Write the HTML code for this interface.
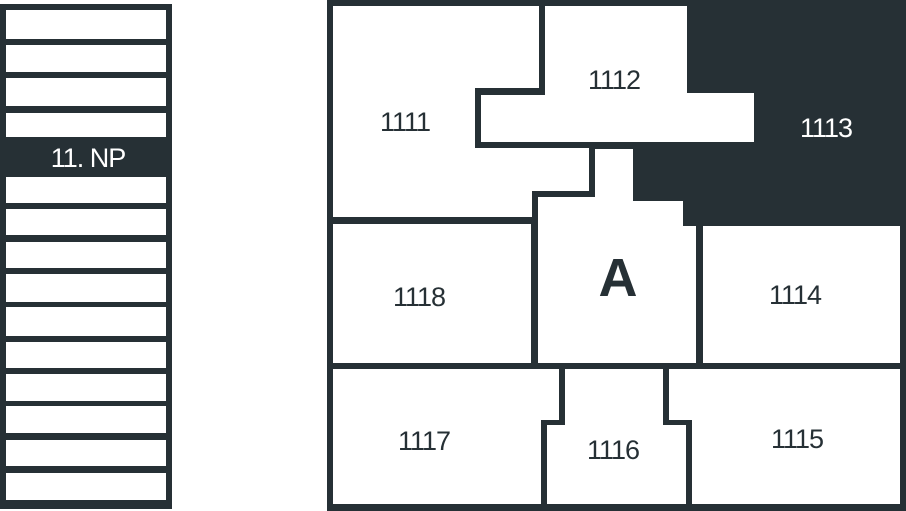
<!DOCTYPE html>
<html><head><meta charset="utf-8"><style>
html,body{margin:0;padding:0;background:#fff;}
svg{display:block;}
text{font-family:"Liberation Sans",sans-serif;font-size:27px;fill:#263035;text-anchor:middle;letter-spacing:-1px;}
</style></head><body>
<svg width="906" height="511" viewBox="0 0 906 511" xmlns="http://www.w3.org/2000/svg">
<rect x="0" y="4" width="172" height="505" fill="#263035"/>
<g fill="#fff">
<rect x="6" y="10" width="160" height="29"/>
<rect x="6" y="45" width="160" height="27"/>
<rect x="6" y="78" width="160" height="28"/>
<rect x="6" y="113" width="160" height="24"/>
<rect x="6" y="177" width="160" height="26"/>
<rect x="6" y="209" width="160" height="26"/>
<rect x="6" y="242" width="160" height="26"/>
<rect x="6" y="274" width="160" height="28"/>
<rect x="6" y="307" width="160" height="29"/>
<rect x="6" y="342" width="160" height="26"/>
<rect x="6" y="374" width="160" height="27"/>
<rect x="6" y="406" width="160" height="27"/>
<rect x="6" y="440" width="160" height="26"/>
<rect x="6" y="473" width="160" height="27"/>
</g>
<text x="88" y="167" style="fill:#fff">11. NP</text>

<rect x="327" y="0" width="579" height="511" fill="#263035"/>
<g fill="#fff">
<polygon points="333,6 539,6 539,88 475,88 475,148 589,148 589,191 532,191 532,217 333,217"/>
<polygon points="545,6 687,6 687,93 754,93 754,142 481,142 481,95 545,95"/>
<polygon points="595,149 633,149 633,201 683,201 683,226 696,226 696,363 538,363 538,197 595,197"/>
<rect x="703" y="226" width="197" height="137"/>
<rect x="333" y="224" width="198" height="139"/>
<polygon points="333,369 559,369 559,420 541,420 541,504 333,504"/>
<polygon points="565,369 663,369 663,425 686,425 686,504 547,504 547,425 565,425"/>
<polygon points="669,369 900,369 900,504 692,504 692,420 669,420"/>
</g>
<text x="405" y="131">1111</text>
<text x="614" y="89">1112</text>
<text x="826" y="137" style="fill:#fff">1113</text>
<text x="419" y="306">1118</text>
<text x="618" y="296" style="font-size:54px;font-weight:bold;letter-spacing:0">A</text>
<text x="795" y="304">1114</text>
<text x="424" y="450">1117</text>
<text x="613" y="459">1116</text>
<text x="797" y="448">1115</text>
</svg>
</body></html>
